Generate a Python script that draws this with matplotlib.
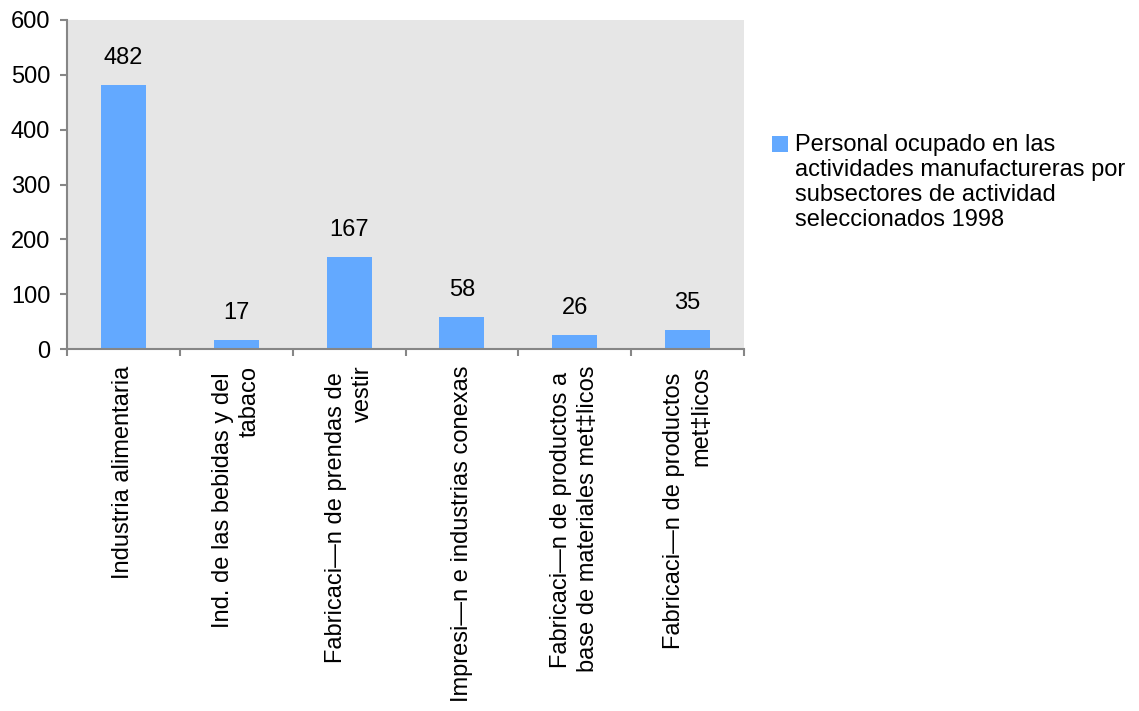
import matplotlib
matplotlib.use("Agg")
import matplotlib.pyplot as plt
from matplotlib.patches import Rectangle

plt.rcParams['font.family'] = ['Liberation Sans', 'DejaVu Sans']

categories = [
    "Industria alimentaria",
    "Ind. de las bebidas y del \ntabaco",
    "Fabricaci\u2014n de prendas de \nvestir",
    "Impresi\u2014n e industrias conexas",
    "Fabricaci\u2014n de productos a \nbase de materiales met\u2021licos",
    "Fabricaci\u2014n de productos \nmet\u2021licos",
]
values = [482, 17, 167, 58, 26, 35]
series_name = ("Personal ocupado en las\nactividades manufactureras por\n"
               "subsectores de actividad\nseleccionados 1998")
y_ticks = [0, 100, 200, 300, 400, 500, 600]

BAR_COLOR = "#63A9FF"
BG_COLOR = "#E6E6E6"
AXIS_COLOR = "#868686"
FS = 17

fig = plt.figure(figsize=(11.39, 7.11), dpi=100)
ax = fig.add_axes([67 / 1139, 1 - 349 / 711, (744 - 67) / 1139, (349 - 20) / 711])
ax.set_facecolor(BG_COLOR)

x = list(range(len(categories)))
ax.bar(x, values, width=0.40, color=BAR_COLOR, zorder=2)

for xi, v in zip(x, values):
    ax.annotate(str(v), (xi, v), xytext=(0, 19.5), textcoords="offset points",
                ha="center", va="center", fontsize=FS, color="black")

ax.set_xlim(-0.5, len(categories) - 0.5)
ax.set_ylim(0, 600)
ax.set_yticks(y_ticks)
ax.set_yticklabels([str(t) for t in y_ticks], fontsize=FS)

# category boundaries carry the tick marks; labels sit at bar centres
ax.set_xticks([i - 0.5 for i in range(len(categories) + 1)])
ax.set_xticklabels([])
ax.set_xticks(x, minor=True)
ax.set_xticklabels(categories, minor=True, rotation=90, fontsize=FS,
                   ha="center", va="top", multialignment="right")
for lbl in ax.get_xticklabels(minor=True):
    lbl.set_linespacing(1.28)
ax.tick_params(axis="x", which="minor", length=0, pad=12)
ax.tick_params(axis="x", which="major", direction="out", length=5,
               width=1.5, color=AXIS_COLOR)
ax.tick_params(axis="y", direction="out", length=5, width=1.5,
               color=AXIS_COLOR, pad=7)

for side in ("top", "right"):
    ax.spines[side].set_visible(False)
for side in ("left", "bottom"):
    ax.spines[side].set_color(AXIS_COLOR)
    ax.spines[side].set_linewidth(1.5)

# legend: swatch aligned with the first text line
fig.patches.append(Rectangle((772 / 1139, 1 - 152 / 711), 16 / 1139, 16 / 711,
                             transform=fig.transFigure, facecolor=BAR_COLOR,
                             edgecolor="none"))
fig.text(795 / 1139, 1 - 134 / 711, series_name, fontsize=FS, va="top",
         ha="left", linespacing=1.17)

fig.savefig("out.png", dpi=100)
